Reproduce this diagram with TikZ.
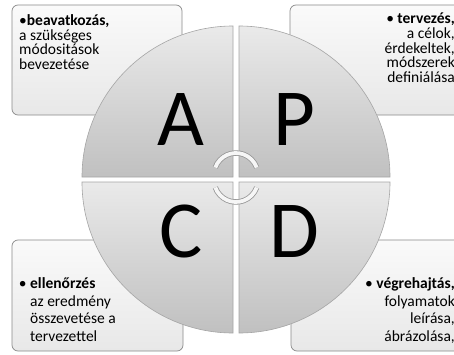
\documentclass[tikz,border=0pt]{standalone}
\usepackage{fontspec}
\setmainfont{Carlito}
\definecolor{boxline}{RGB}{138,138,138}
\definecolor{boxtop}{RGB}{250,250,250}
\definecolor{boxbot}{RGB}{232,232,232}
\definecolor{qtop}{RGB}{234,234,234}
\definecolor{qbot}{RGB}{192,192,192}
\definecolor{qline}{RGB}{165,165,165}
\definecolor{arcline}{RGB}{150,150,150}
\definecolor{arcfill}{RGB}{246,246,246}
\begin{document}
\global\lineskiplimit=-20pt\relax
\begin{tikzpicture}[x=1pt,y=1pt,
  boxst/.style={draw=boxline, line width=0.7pt, rounded corners=6pt, top color=boxtop, bottom color=boxbot},
  quad/.style={draw=qline, line width=0.6pt, top color=qtop, bottom color=qbot},
  letter/.style={inner sep=0pt, anchor=base, font=\fontsize{81}{81}\selectfont},
  toptext/.style={inner sep=0pt, font=\fontsize{15.5}{14.6}\selectfont},
  bottext/.style={inner sep=0pt, font=\fontsize{15.5}{17.7}\selectfont}]
\clip (0,0) rectangle (454,354);
\fill[white] (0,0) rectangle (454,354);
% boxes
\path[boxst] (12,239) rectangle (182,349);
\path[boxst] (290,239) rectangle (464,349);
\path[boxst] (12,3) rectangle (183,114);
\path[boxst] (291,3) rectangle (464,114);
% quadrants
\path[quad] (233,177) -- (82,177) arc[start angle=180, end angle=90, radius=151] -- cycle;
\path[quad] (239,177) -- (239,328) arc[start angle=90, end angle=0, radius=151] -- cycle;
\path[quad] (233,172) -- (233,21) arc[start angle=270, end angle=180, radius=151] -- cycle;
\path[quad] (239,172) -- (390,172) arc[start angle=0, end angle=-90, radius=151] -- cycle;
% letters
\node[letter] (lA) at (180.5,209) {A};
\node[letter] (lP) at (294,209) {P};
\node[letter] (lC) at (181,97) {C};
\node[letter] (lD) at (294,97) {D};
% cycle arcs
\draw[arcline, line width=5.4pt] (215.3,186.5) arc[start angle=160, end angle=20, radius=22];
\draw[arcfill, line width=3.8pt] (215.3,186.5) arc[start angle=160, end angle=20, radius=22];
\draw[arcline, line width=5.4pt] (215.3,166.5) arc[start angle=200, end angle=340, radius=22];
\draw[arcfill, line width=3.8pt] (215.3,166.5) arc[start angle=200, end angle=340, radius=22];
% texts
\node[toptext, anchor=north west, align=left] (tA) at (19,339.5)
  {\textbullet\textbf{beavatkozás,}\\ a szükséges\\ módositások\\ bevezetése};
\node[toptext, anchor=north east, align=right] (tP) at (455,341)
  {\textbullet{} \textbf{tervezés,}\\ a célok,\\ érdekeltek,\\ módszerek\\ definiálása};
\node[bottext, anchor=north west, align=left] (tC) at (30,76.5)
  {\llap{\textbullet\hspace{3.5pt}}\textbf{ellenőrzés}\\ az eredmény\\ összevetése a\\ tervezettel};
\node[bottext, anchor=north east, align=right] (tD) at (455,76.5)
  {\textbullet{} \textbf{végrehajtás,}\\ folyamatok\\ leírása,\\ ábrázolása,};
\end{tikzpicture}
\end{document}
